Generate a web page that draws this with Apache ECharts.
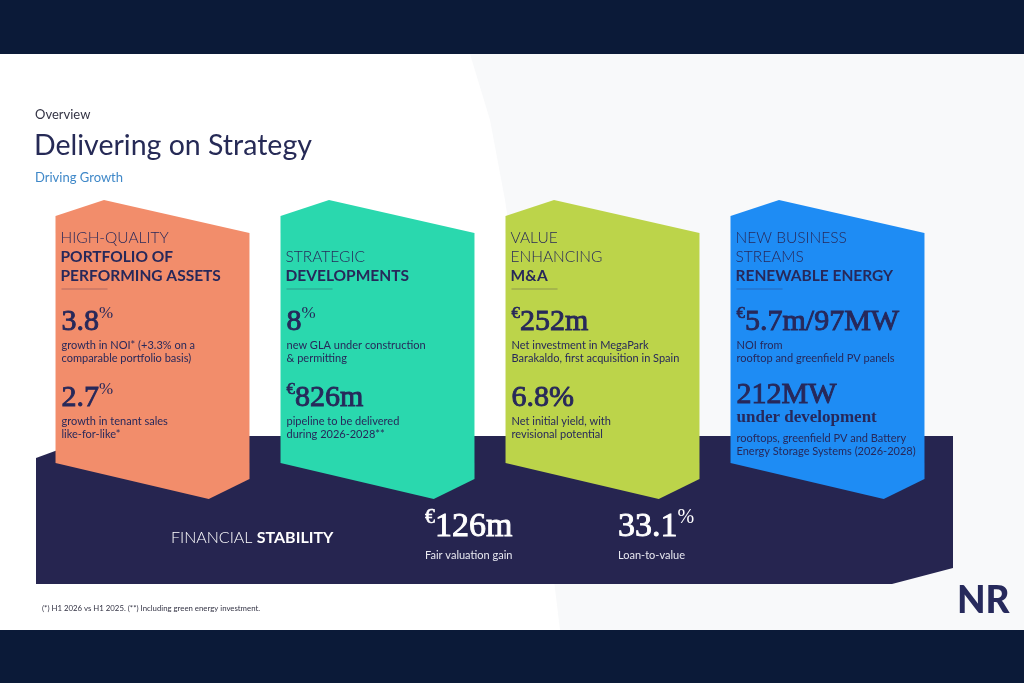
<!DOCTYPE html>
<html><head><meta charset="utf-8">
<script src="https://cdn.jsdelivr.net/npm/echarts@6/dist/echarts.min.js"></script>
<style>html,body{margin:0;padding:0;background:#fff}#c{width:1024px;height:683px}</style>
</head><body><div id="c"></div>
<script>
// ---- data ----
const pillars = ['Portfolio', 'Developments', 'M&A', 'Renewable Energy'];
const headLight = [['HIGH-QUALITY'], ['STRATEGIC'], ['VALUE', 'ENHANCING'], ['NEW BUSINESS', 'STREAMS']];
const headBold = [['PORTFOLIO OF', 'PERFORMING ASSETS'], ['DEVELOPMENTS'], ['M&A'], ['RENEWABLE ENERGY']];
const m1Pre = ['', '', '€', '€'];
const m1Val = ['3.8', '8', '252m', '5.7m/97MW'];
const m1Sup = ['%', '%', '', ''];
const m1Text = [
  ['growth in NOI* (+3.3% on a', 'comparable portfolio basis)'],
  ['new GLA under construction', '& permitting'],
  ['Net investment in MegaPark', 'Barakaldo, first acquisition in Spain'],
  ['NOI from', 'rooftop and greenfield PV panels']
];
const m2Pre = ['', '€', '', ''];
const m2Val = ['2.7', '826m', '6.8%', '212MW'];
const m2Sup = ['%', '', '', ''];
const m2Sub = ['', '', '', 'under development'];
const m2Text = [
  ['growth in tenant sales', 'like-for-like*'],
  ['pipeline to be delivered', 'during 2026-2028**'],
  ['Net initial yield, with', 'revisional potential'],
  ['rooftops, greenfield PV and Battery', 'Energy Storage Systems (2026-2028)']
];
const finPre = ['€', ''];
const finVal = ['126m', '33.1'];
const finSup = ['', '%'];
const finLabel = ['Fair valuation gain', 'Loan-to-value'];

// ---- styles ----
const cardColors = ['#F28D6B', '#2AD8AE', '#BCD44A', '#1E8CF4'];
const ink = '#27285A';
const SANS = 'Lato, "Noto Sans", sans-serif';
const SERIF = '"Liberation Serif", "DejaVu Serif", serif';

function bigRich(pre, val, sup, color, size) {
  let t = '';
  if (pre) t += '{pre|' + pre + '}';
  t += '{num|' + val + '}';
  if (sup) t += '{sup|' + sup + '}';
  return {
    text: t,
    rich: {
      num: {fontFamily: SERIF, fontSize: size, fontWeight: 'normal', fill: color, stroke: color, lineWidth: 0.9, lineHeight: size + 2, verticalAlign: 'bottom'},
      pre: {fontFamily: SERIF, fontSize: Math.round(size * 0.58), fontWeight: 'normal', fill: color, stroke: color, lineWidth: 0.6, lineHeight: size + 2, verticalAlign: 'top'},
      sup: {fontFamily: SERIF, fontSize: Math.round(size * 0.58), fontWeight: 'normal', fill: color, lineHeight: size + 2, verticalAlign: 'top'}
    }
  };
}

function cardItem(params, api) {
  const i = params.dataIndex;
  const cx = api.coord([i, 0])[0];
  const w = api.size([1, 0])[0] * 0.862;
  const L = cx - w / 2, R = cx + w / 2;
  const Y = v => api.coord([i, v])[1];
  const children = [];
  children.push({
    type: 'polygon',
    shape: {points: [[L, Y(216)], [L + w * 0.25, Y(200)], [R, Y(233)], [R, Y(479)], [L + w * 0.79, Y(499)], [L, Y(463)]]},
    style: {fill: cardColors[i]}
  });
  const tx = L + 5;
  const lines = headLight[i].map(s => ({s, b: false})).concat(headBold[i].map(s => ({s, b: true})));
  const n = lines.length;
  lines.forEach((ln, k) => {
    children.push({
      type: 'text',
      style: {text: ln.s, x: tx, y: Y(276 - (n - 1 - k) * 19), fill: ink, fontFamily: SANS,
        fontSize: 15.5, fontWeight: ln.b ? 'bold' : 300, verticalAlign: 'middle', align: 'left'}
    });
  });
  children.push({type: 'line', shape: {x1: tx + 1, y1: Y(289), x2: tx + 47, y2: Y(289)},
    style: {stroke: 'rgba(60,40,80,0.35)', lineWidth: 1.2}});
  const r1 = bigRich(m1Pre[i], m1Val[i], m1Sup[i], ink, 30);
  children.push({type: 'text', style: Object.assign({x: tx + 1, y: Y(337), verticalAlign: 'bottom', align: 'left'}, r1)});
  m1Text[i].forEach((s, k) => {
    children.push({type: 'text', style: {text: s, x: tx + 1, y: Y(345 + k * 13.5), fill: ink, fontFamily: SANS,
      fontSize: 11, verticalAlign: 'middle', align: 'left'}});
  });
  const r2 = bigRich(m2Pre[i], m2Val[i], m2Sup[i], ink, 30);
  const m2y = m2Sub[i] ? 410 : 413;
  children.push({type: 'text', style: Object.assign({x: tx + 1, y: Y(m2y), verticalAlign: 'bottom', align: 'left'}, r2)});
  let dy = 421;
  if (m2Sub[i]) {
    children.push({type: 'text', style: {text: m2Sub[i], x: tx + 1, y: Y(418), fill: ink, fontFamily: SERIF,
      fontSize: 17, fontWeight: 'bold', verticalAlign: 'middle', align: 'left'}});
    dy = 438;
  }
  m2Text[i].forEach((s, k) => {
    children.push({type: 'text', style: {text: s, x: tx + 1, y: Y(dy + k * 13.5), fill: ink, fontFamily: SANS,
      fontSize: 11, verticalAlign: 'middle', align: 'left'}});
  });
  return {type: 'group', children};
}

function bandItem(params, api) {
  const P = (x, y) => api.coord([x, y]);
  return {
    type: 'polygon',
    shape: {points: [P(36, 458), P(96, 436), P(953, 436), P(953, 568), P(892, 584), P(36, 584)]},
    style: {fill: '#262550'}
  };
}

function finItem(params, api) {
  const i = params.dataIndex;
  const x0 = 425 + i * 193;
  const p = api.coord([x0, 544]);
  const q = api.coord([x0, 555]);
  const r = bigRich(finPre[i], finVal[i], finSup[i], '#ffffff', 34);
  return {type: 'group', children: [
    {type: 'text', style: Object.assign({x: p[0], y: p[1], verticalAlign: 'bottom', align: 'left'}, r)},
    {type: 'text', style: {text: finLabel[i], x: q[0], y: q[1], fill: '#e8e8f0', fontFamily: SANS, fontSize: 11, verticalAlign: 'middle', align: 'left'}}
  ]};
}

const chart = echarts.init(document.getElementById('c'), null, {renderer: 'canvas'});
chart.setOption({
  animation: false,
  backgroundColor: '#ffffff',
  grid: [
    {left: 40, right: 84, top: 0, bottom: 0},
    {left: 0, right: 0, top: 0, bottom: 0}
  ],
  xAxis: [
    {type: 'category', data: pillars, gridIndex: 0, show: false, boundaryGap: true},
    {type: 'value', min: 0, max: 1024, gridIndex: 1, show: false}
  ],
  yAxis: [
    {type: 'value', min: 0, max: 683, inverse: true, gridIndex: 0, show: false},
    {type: 'value', min: 0, max: 683, inverse: true, gridIndex: 1, show: false}
  ],
  graphic: [
    {type: 'polygon', z: 0, shape: {points: [[470, 54], [1024, 54], [1024, 630], [560, 630], [520, 300], [505, 200], [490, 120]]}, style: {fill: '#f8f9fa'}},
    {type: 'rect', z: 0, shape: {x: 0, y: 0, width: 1024, height: 54}, style: {fill: '#0b1a38'}},
    {type: 'rect', z: 0, shape: {x: 0, y: 630, width: 1024, height: 53}, style: {fill: '#0b1a38'}},
    {type: 'text', z: 1, style: {text: 'Overview', x: 35, y: 115, fill: '#333344', fontFamily: SANS, fontSize: 13, verticalAlign: 'middle'}},
    {type: 'text', z: 1, style: {text: 'Delivering on Strategy', x: 34, y: 146, fill: '#262a56', fontFamily: SANS, fontSize: 28.5, verticalAlign: 'middle'}},
    {type: 'text', z: 1, style: {text: 'Driving Growth', x: 35, y: 178, fill: '#3f88c8', fontFamily: SANS, fontSize: 13, verticalAlign: 'middle'}},
    {type: 'text', z: 1, style: {text: '(*) H1 2026 vs H1 2025. (**) Including green energy investment.', x: 42, y: 608, fill: '#333344', fontFamily: SANS, fontSize: 7.8, verticalAlign: 'middle'}},
    {type: 'text', z: 1, style: {text: 'NR', x: 957, y: 601, fill: '#272a5c', fontFamily: SANS, fontSize: 37, fontWeight: 900, verticalAlign: 'middle'}},
    {type: 'text', z: 10, style: {rich: {l: {fontFamily: SANS, fontSize: 16, fontWeight: 300, fill: '#ffffff'}, b: {fontFamily: SANS, fontSize: 16, fontWeight: 'bold', fill: '#ffffff'}},
      text: '{l|FINANCIAL }{b|STABILITY}', x: 171, y: 538, verticalAlign: 'middle'}}
  ],
  series: [
    {type: 'custom', xAxisIndex: 1, yAxisIndex: 1, z: 1, data: [[0, 0]], renderItem: bandItem, silent: true},
    {type: 'custom', xAxisIndex: 0, yAxisIndex: 0, z: 2, data: pillars.map((p, i) => [i, 0]), encode: {x: 0, y: 1}, renderItem: cardItem, silent: true},
    {type: 'custom', xAxisIndex: 1, yAxisIndex: 1, z: 3, data: finVal.map((v, i) => [i, 0]), renderItem: finItem, silent: true}
  ]
});
</script></body></html>
